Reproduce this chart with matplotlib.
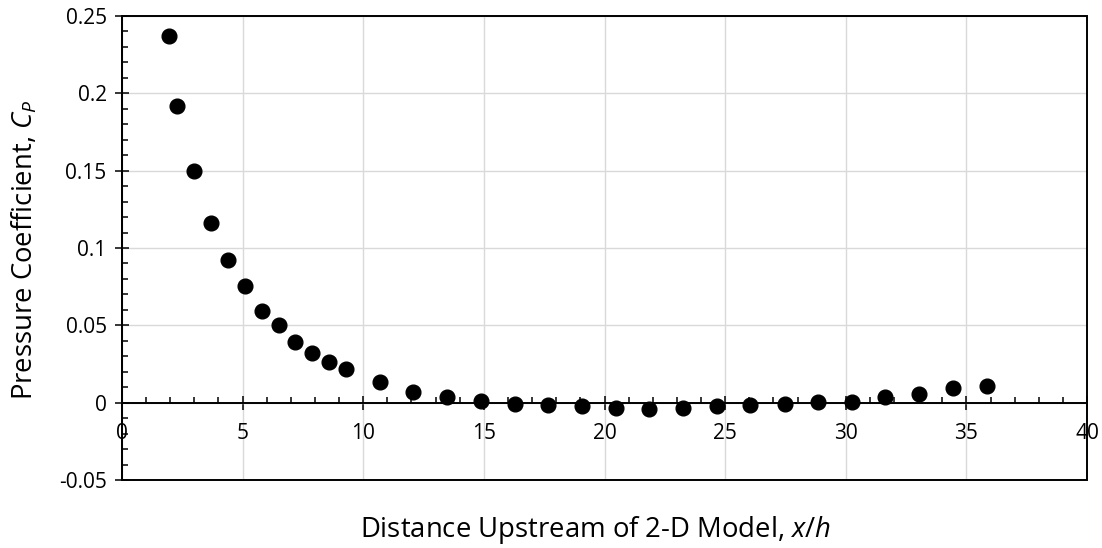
import matplotlib
matplotlib.use("Agg")
import matplotlib.pyplot as plt
from matplotlib.patches import Rectangle
from matplotlib.ticker import MultipleLocator, FuncFormatter

# Données
x_over_h = [1.94, 2.30, 3.00, 3.71, 4.39, 5.08, 5.79, 6.49, 7.19, 7.89, 8.58, 9.28,
            10.69, 12.08, 13.48, 14.89, 16.28, 17.66, 19.06, 20.47, 21.86, 23.26,
            24.66, 26.05, 27.47, 28.84, 30.24, 31.64, 33.05, 34.45, 35.84]
cp = [0.237, 0.192, 0.150, 0.116, 0.092, 0.0755, 0.0595, 0.050, 0.039, 0.032, 0.026,
      0.0217, 0.0131, 0.0067, 0.0036, 0.0013, -0.0011, -0.0015, -0.0024, -0.0032,
      -0.0041, -0.0032, -0.0022, -0.0013, -0.0009, 0.0006, 0.0006, 0.0039, 0.0058,
      0.0097, 0.0110]

x_ticks = [0, 5, 10, 15, 20, 25, 30, 35, 40]
y_ticks = [-0.05, 0, 0.05, 0.1, 0.15, 0.2, 0.25]

plt.rcParams['font.family'] = ['Open Sans', 'DejaVu Sans']
plt.rcParams['mathtext.fontset'] = 'custom'
plt.rcParams['mathtext.rm'] = 'Open Sans'
plt.rcParams['mathtext.it'] = 'Open Sans:italic'
plt.rcParams['axes.unicode_minus'] = False

fig = plt.figure(figsize=(11.02, 5.48), dpi=100)
ax = fig.add_axes([0.1107, 0.1241, 0.8757, 0.8467])

ax.scatter(x_over_h, cp, s=112, color='black', zorder=5, clip_on=False)

ax.set_xlim(0, 40)
ax.set_ylim(-0.05, 0.25)
ax.set_xticks(x_ticks)
ax.set_yticks(y_ticks)
ax.xaxis.set_minor_locator(MultipleLocator(1))
ax.yaxis.set_minor_locator(MultipleLocator(0.01))
fmt = FuncFormatter(lambda v, p: '%g' % round(v, 4))
ax.xaxis.set_major_formatter(fmt)
ax.yaxis.set_major_formatter(fmt)

ax.grid(True, which='major', color='#d9d9d9', linewidth=1.0, zorder=0)
ax.set_axisbelow(True)

# axe horizontal à y = 0, cadre noir autour
for s in ['top', 'right']:
    ax.spines[s].set_visible(False)
ax.spines['bottom'].set_position(('data', 0))
ax.spines['bottom'].set_linewidth(1.4)
ax.spines['left'].set_linewidth(1.4)
ax.add_patch(Rectangle((0, 0), 1, 1, transform=ax.transAxes, fill=False,
                       edgecolor='black', linewidth=1.4, clip_on=False, zorder=4))

ax.tick_params(axis='both', which='major', direction='inout', length=10, width=1.1,
               labelsize=15)
ax.tick_params(axis='x', which='major', pad=9.5)
ax.tick_params(axis='y', which='major', pad=6)
ax.tick_params(axis='both', which='minor', direction='in', length=4, width=1.1)

ax.set_xlabel(r'Distance Upstream of 2-D Model, $x/h$', fontsize=19.8, va='center')
ax.set_ylabel(r'Pressure Coefficient, $C_P$', fontsize=19.8, va='center', ha='center')
ax.xaxis.set_label_coords(0.4907, -0.107)
ax.yaxis.set_label_coords(-0.1005, 0.4957)

plt.savefig('out.png', dpi=100)
